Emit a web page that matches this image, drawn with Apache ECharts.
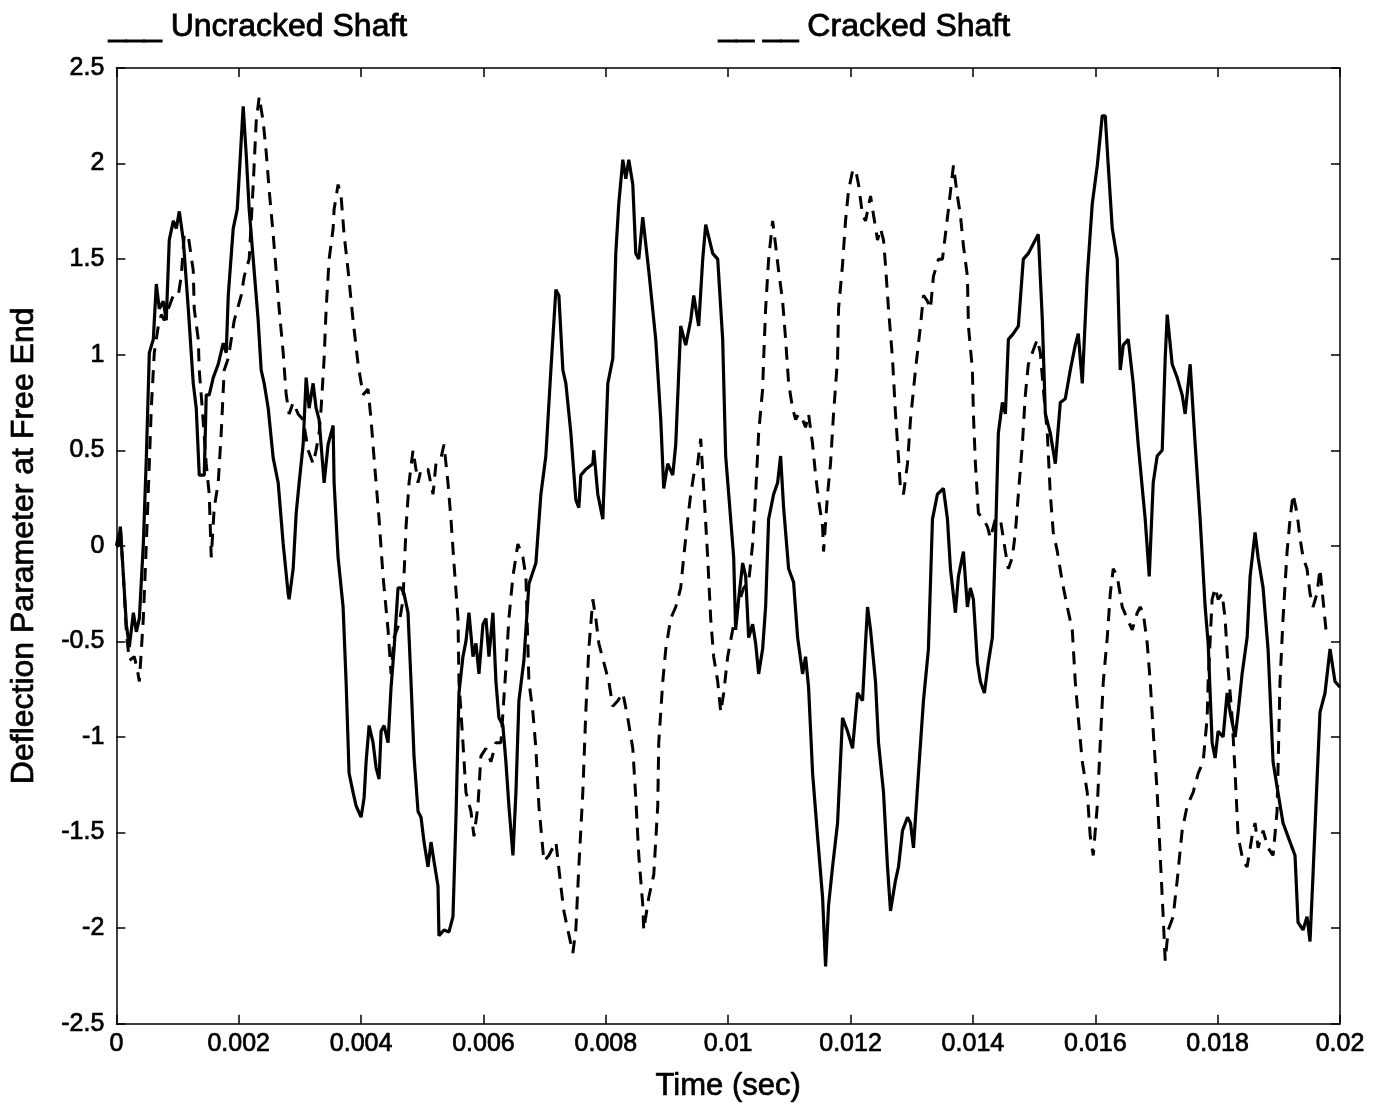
<!DOCTYPE html>
<html>
<head>
<meta charset="utf-8">
<title>Deflection Parameter at Free End</title>
<script src="https://cdn.jsdelivr.net/npm/echarts@6/dist/echarts.min.js"></script>
<style>
  html, body { margin: 0; padding: 0; background: #fff; }
  #chart { width: 1394px; height: 1107px; }
</style>
</head>
<body>
<div id="chart"></div>
<script>
// time in ms (axis shows seconds)
const uncrackedTime = [
  0, 0.033, 0.065, 0.114, 0.163, 0.212, 0.278, 0.327, 0.376, 0.441,
  0.490, 0.539, 0.604, 0.653, 0.702, 0.767, 0.816, 0.865, 0.931, 0.980,
  1.029, 1.094, 1.176, 1.257, 1.306, 1.355, 1.437, 1.469, 1.518, 1.584,
  1.665, 1.747, 1.796, 1.829, 1.910, 1.976, 2.073, 2.122, 2.171, 2.237,
  2.318, 2.367, 2.416, 2.482, 2.563, 2.645, 2.727, 2.808, 2.824, 2.890,
  2.939, 2.988, 3.053, 3.102, 3.151, 3.216, 3.265, 3.314, 3.396, 3.461,
  3.510, 3.543, 3.559, 3.624, 3.706, 3.755, 3.804, 3.869, 3.918, 4.000,
  4.049, 4.082, 4.131, 4.196, 4.245, 4.294, 4.327, 4.376, 4.441, 4.490,
  4.539, 4.604, 4.653, 4.702, 4.767, 4.816, 4.865, 4.931, 4.980, 5.029,
  5.094, 5.143, 5.192, 5.257, 5.273, 5.355, 5.437, 5.502, 5.551, 5.600,
  5.665, 5.714, 5.763, 5.829, 5.878, 5.927, 5.992, 6.041, 6.090, 6.155,
  6.204, 6.253, 6.318, 6.367, 6.416, 6.482, 6.531, 6.580, 6.661, 6.743,
  6.857, 6.939, 7.020, 7.102, 7.184, 7.233, 7.298, 7.347, 7.429, 7.510,
  7.559, 7.592, 7.673, 7.788, 7.804, 7.869, 7.951, 8.033, 8.114, 8.163,
  8.212, 8.278, 8.327, 8.376, 8.441, 8.490, 8.539, 8.604, 8.702, 8.816,
  8.898, 8.947, 9.012, 9.094, 9.143, 9.224, 9.306, 9.388, 9.437, 9.518,
  9.584, 9.633, 9.747, 9.829, 9.910, 9.959, 10.041, 10.090, 10.122, 10.171,
  10.237, 10.286, 10.335, 10.400, 10.449, 10.498, 10.563, 10.612, 10.661, 10.743,
  10.808, 10.857, 10.906, 10.988, 11.069, 11.135, 11.216, 11.265, 11.314, 11.380,
  11.461, 11.543, 11.592, 11.641, 11.706, 11.788, 11.869, 11.951, 12.033, 12.114,
  12.196, 12.245, 12.278, 12.327, 12.408, 12.457, 12.539, 12.604, 12.653, 12.735,
  12.784, 12.849, 12.931, 12.980, 13.029, 13.110, 13.192, 13.273, 13.339, 13.420,
  13.518, 13.584, 13.633, 13.714, 13.763, 13.845, 13.910, 13.959, 14.008, 14.073,
  14.122, 14.188, 14.253, 14.318, 14.367, 14.416, 14.482, 14.531, 14.580, 14.661,
  14.743, 14.824, 14.906, 15.020, 15.069, 15.135, 15.184, 15.265, 15.347, 15.429,
  15.510, 15.592, 15.673, 15.722, 15.788, 15.869, 15.951, 16.033, 16.114, 16.163,
  16.212, 16.278, 16.359, 16.408, 16.457, 16.539, 16.620, 16.702, 16.816, 16.882,
  16.947, 17.012, 17.094, 17.143, 17.176, 17.257, 17.339, 17.420, 17.469, 17.551,
  17.633, 17.714, 17.796, 17.845, 17.910, 17.959, 18.008, 18.090, 18.155, 18.204,
  18.286, 18.335, 18.400, 18.482, 18.531, 18.612, 18.661, 18.743, 18.824, 18.906,
  18.971, 19.069, 19.184, 19.265, 19.314, 19.396, 19.461, 19.510, 19.559, 19.624,
  19.673, 19.755, 19.837, 19.918, 20.000
]
const uncrackedDeflection = [
  0, 0, 0.1, -0.15, -0.41, -0.53, -0.35, -0.45, -0.38, 0.01,
  0.46, 1.01, 1.08, 1.37, 1.24, 1.28, 1.18, 1.6, 1.7, 1.66,
  1.75, 1.6, 1.24, 0.85, 0.72, 0.37, 0.37, 0.79, 0.79, 0.88,
  0.95, 1.06, 1.01, 1.31, 1.66, 1.76, 2.3, 2.05, 1.76, 1.5,
  1.18, 0.92, 0.85, 0.72, 0.46, 0.33, 0.01, -0.25, -0.28, -0.12,
  0.17, 0.33, 0.53, 0.88, 0.72, 0.85, 0.72, 0.66, 0.33, 0.53,
  0.59, 0.63, 0.33, -0.06, -0.32, -0.71, -1.19, -1.29, -1.36, -1.42,
  -1.32, -1.13, -0.94, -1.03, -1.16, -1.22, -0.97, -0.94, -1.03, -0.74,
  -0.54, -0.22, -0.22, -0.25, -0.35, -0.71, -1.1, -1.39, -1.42, -1.55,
  -1.68, -1.55, -1.65, -1.78, -2.04, -2.01, -2.02, -1.94, -1.42, -0.77,
  -0.58, -0.5, -0.35, -0.58, -0.51, -0.67, -0.41, -0.38, -0.58, -0.35,
  -0.71, -0.9, -0.94, -1.13, -1.36, -1.62, -1.29, -0.81, -0.6, -0.2,
  -0.09, 0.27, 0.47, 0.92, 1.34, 1.31, 0.92, 0.85, 0.59, 0.24,
  0.2, 0.37, 0.4, 0.43, 0.5, 0.27, 0.14, 0.85, 0.98, 1.53,
  1.79, 2.02, 1.92, 2.02, 1.89, 1.53, 1.5, 1.72, 1.44, 1.08,
  0.66, 0.3, 0.43, 0.37, 0.53, 1.15, 1.05, 1.18, 1.31, 1.15,
  1.5, 1.68, 1.53, 1.5, 1.08, 0.47, 0.14, -0.06, -0.44, -0.28,
  -0.09, -0.16, -0.48, -0.41, -0.51, -0.67, -0.54, -0.32, 0.14, 0.27,
  0.33, 0.47, 0.2, -0.12, -0.19, -0.48, -0.67, -0.58, -0.74, -1.19,
  -1.52, -1.84, -2.2, -1.88, -1.68, -1.45, -0.9, -0.97, -1.06, -0.77,
  -0.81, -0.51, -0.32, -0.44, -0.71, -1.03, -1.29, -1.68, -1.91, -1.75,
  -1.68, -1.49, -1.42, -1.45, -1.58, -1.19, -0.81, -0.54, 0.14, 0.27,
  0.3, 0.14, -0.12, -0.35, -0.16, -0.03, -0.32, -0.22, -0.28, -0.61,
  -0.71, -0.77, -0.61, -0.48, 0.01, 0.59, 0.75, 0.69, 1.08, 1.11,
  1.15, 1.5, 1.53, 1.6, 1.63, 1.18, 0.69, 0.59, 0.43, 0.75,
  0.77, 0.92, 1.05, 1.11, 0.85, 1.41, 1.79, 1.99, 2.25, 2.25,
  1.99, 1.66, 1.5, 0.92, 1.05, 1.08, 0.85, 0.53, 0.14, -0.16,
  0.33, 0.47, 0.5, 0.98, 1.21, 0.95, 0.88, 0.79, 0.69, 0.95,
  0.53, 0.14, -0.32, -0.51, -1.03, -1.11, -0.97, -1.0, -0.77, -0.87,
  -1.0, -0.87, -0.67, -0.48, -0.16, 0.07, -0.06, -0.22, -0.54, -1.13,
  -1.26, -1.45, -1.55, -1.62, -1.97, -2.01, -1.94, -2.07, -1.72, -1.23,
  -0.87, -0.77, -0.54, -0.71, -0.74
]
const crackedTime = [
  0, 0.065, 0.114, 0.163, 0.212, 0.294, 0.343, 0.376, 0.441, 0.490,
  0.539, 0.571, 0.620, 0.686, 0.735, 0.784, 0.849, 0.931, 1.012, 1.061,
  1.110, 1.176, 1.257, 1.273, 1.339, 1.355, 1.404, 1.469, 1.518, 1.551,
  1.600, 1.665, 1.714, 1.763, 1.829, 1.927, 2.041, 2.090, 2.171, 2.237,
  2.286, 2.335, 2.400, 2.449, 2.498, 2.563, 2.612, 2.661, 2.727, 2.776,
  2.824, 2.890, 2.971, 3.053, 3.135, 3.216, 3.265, 3.314, 3.347, 3.396,
  3.429, 3.478, 3.543, 3.559, 3.624, 3.673, 3.722, 3.788, 3.869, 3.951,
  4.033, 4.114, 4.163, 4.212, 4.294, 4.359, 4.441, 4.490, 4.539, 4.620,
  4.686, 4.735, 4.784, 4.849, 4.931, 4.980, 5.094, 5.176, 5.224, 5.306,
  5.355, 5.420, 5.469, 5.518, 5.584, 5.600, 5.665, 5.714, 5.796, 5.845,
  5.910, 5.959, 6.041, 6.122, 6.204, 6.286, 6.367, 6.416, 6.482, 6.563,
  6.645, 6.694, 6.743, 6.808, 6.857, 6.906, 6.988, 7.069, 7.184, 7.265,
  7.314, 7.380, 7.461, 7.510, 7.559, 7.624, 7.673, 7.722, 7.788, 7.837,
  7.886, 7.967, 8.049, 8.114, 8.196, 8.278, 8.359, 8.441, 8.490, 8.539,
  8.604, 8.620, 8.702, 8.784, 8.849, 8.865, 8.931, 8.980, 9.061, 9.143,
  9.224, 9.273, 9.339, 9.388, 9.437, 9.502, 9.551, 9.600, 9.665, 9.714,
  9.763, 9.829, 9.878, 9.927, 9.992, 10.073, 10.155, 10.253, 10.335, 10.400,
  10.449, 10.498, 10.563, 10.580, 10.612, 10.661, 10.727, 10.776, 10.824, 10.890,
  10.939, 10.988, 11.053, 11.102, 11.151, 11.216, 11.265, 11.314, 11.380, 11.429,
  11.478, 11.543, 11.559, 11.624, 11.673, 11.722, 11.788, 11.804, 11.869, 11.918,
  11.967, 12.033, 12.082, 12.131, 12.196, 12.245, 12.327, 12.376, 12.441, 12.490,
  12.539, 12.571, 12.620, 12.686, 12.735, 12.784, 12.816, 12.865, 12.931, 12.980,
  13.061, 13.143, 13.192, 13.257, 13.306, 13.355, 13.437, 13.502, 13.551, 13.600,
  13.682, 13.747, 13.796, 13.845, 13.910, 13.927, 13.992, 14.008, 14.041, 14.090,
  14.171, 14.237, 14.286, 14.367, 14.449, 14.531, 14.580, 14.645, 14.694, 14.743,
  14.808, 14.857, 14.906, 14.971, 15.053, 15.102, 15.151, 15.216, 15.265, 15.314,
  15.380, 15.461, 15.543, 15.624, 15.673, 15.722, 15.788, 15.869, 15.918, 15.967,
  16.033, 16.082, 16.131, 16.196, 16.245, 16.294, 16.359, 16.441, 16.522, 16.604,
  16.686, 16.735, 16.784, 16.849, 16.898, 16.947, 17.012, 17.061, 17.110, 17.143,
  17.192, 17.273, 17.339, 17.420, 17.502, 17.600, 17.682, 17.763, 17.829, 17.845,
  17.910, 17.959, 18.008, 18.073, 18.122, 18.171, 18.237, 18.286, 18.335, 18.416,
  18.482, 18.563, 18.612, 18.661, 18.743, 18.824, 18.906, 18.971, 19.020, 19.069,
  19.135, 19.184, 19.233, 19.298, 19.347, 19.396, 19.461, 19.510, 19.559, 19.624,
  19.673, 19.722, 19.771
]
const crackedDeflection = [
  0, 0.1, -0.15, -0.45, -0.6, -0.58, -0.65, -0.71, -0.38, 0.01,
  0.43, 0.72, 1.01, 1.15, 1.21, 1.18, 1.24, 1.31, 1.31, 1.41,
  1.63, 1.62, 1.44, 1.24, 1.08, 0.92, 0.72, 0.43, 0.27, -0.06,
  0.2, 0.33, 0.59, 0.92, 0.98, 1.18, 1.31, 1.41, 1.5, 1.89,
  2.22, 2.35, 2.22, 2.06, 1.86, 1.63, 1.44, 1.24, 1.01, 0.79,
  0.69, 0.75, 0.69, 0.66, 0.5, 0.43, 0.5, 0.59, 0.72, 0.98,
  1.24, 1.5, 1.66, 1.76, 1.89, 1.83, 1.63, 1.44, 1.18, 0.95,
  0.79, 0.82, 0.66, 0.46, 0.14, -0.16, -0.44, -0.67, -0.48, -0.41,
  -0.28, 0.1, 0.33, 0.5, 0.33, 0.4, 0.4, 0.27, 0.43, 0.46,
  0.53, 0.33, 0.14, -0.09, -0.38, -0.71, -1.03, -1.29, -1.39, -1.52,
  -1.36, -1.1, -1.06, -1.13, -1.03, -1.03, -0.64, -0.38, -0.16, 0.01,
  -0.06, -0.16, -0.71, -0.87, -1.06, -1.36, -1.65, -1.62, -1.55, -1.78,
  -1.91, -2.01, -2.13, -2.01, -1.68, -1.29, -0.87, -0.54, -0.28, -0.38,
  -0.51, -0.61, -0.71, -0.84, -0.81, -0.77, -0.9, -1.06, -1.32, -1.62,
  -1.88, -2.01, -1.84, -1.72, -1.36, -1.03, -0.71, -0.54, -0.38, -0.32,
  -0.22, -0.06, 0.14, 0.27, 0.37, 0.43, 0.56, 0.3, -0.06, -0.38,
  -0.58, -0.71, -0.87, -0.77, -0.58, -0.44, -0.32, -0.22, -0.19, 0.01,
  0.27, 0.59, 0.82, 0.98, 1.24, 1.5, 1.7, 1.57, 1.44, 1.28,
  1.08, 0.85, 0.72, 0.66, 0.69, 0.66, 0.62, 0.69, 0.53, 0.37,
  0.24, 0.1, -0.03, 0.27, 0.43, 0.69, 0.98, 1.24, 1.47, 1.7,
  1.86, 1.96, 1.97, 1.89, 1.73, 1.7, 1.83, 1.73, 1.6, 1.66,
  1.6, 1.47, 1.24, 0.98, 0.69, 0.46, 0.3, 0.27, 0.43, 0.66,
  0.92, 1.15, 1.31, 1.28, 1.24, 1.41, 1.5, 1.5, 1.63, 1.76,
  1.99, 1.83, 1.73, 1.57, 1.41, 1.15, 0.92, 0.69, 0.43, 0.17,
  0.14, 0.1, 0.04, 0.14, 0.14, -0.03, -0.12, -0.06, 0.07, 0.27,
  0.53, 0.79, 0.95, 1.01, 1.08, 1.01, 0.82, 0.59, 0.27, 0.07,
  -0.03, -0.19, -0.32, -0.44, -0.71, -0.9, -1.13, -1.29, -1.52, -1.62,
  -1.36, -1.03, -0.71, -0.48, -0.25, -0.12, -0.16, -0.32, -0.38, -0.44,
  -0.35, -0.32, -0.35, -0.51, -0.71, -0.97, -1.29, -1.62, -1.94, -2.17,
  -2.01, -1.94, -1.75, -1.49, -1.36, -1.29, -1.19, -1.13, -0.9, -0.71,
  -0.28, -0.22, -0.28, -0.25, -0.38, -0.64, -0.9, -1.19, -1.52, -1.65,
  -1.68, -1.52, -1.45, -1.58, -1.49, -1.58, -1.62, -1.39, -0.71, -0.38,
  -0.03, 0.14, 0.27, 0.17, 0.04, -0.06, -0.12, -0.25, -0.32, -0.25,
  -0.12, -0.28, -0.44
]
const xTickLabels = ['0', '0.002', '0.004', '0.006', '0.008', '0.01', '0.012', '0.014', '0.016', '0.018', '0.02']
const yTickLabels = ['-2.5', '-2', '-1.5', '-1', '-0.5', '0', '0.5', '1', '1.5', '2', '2.5']

const font = 'Liberation Sans, Arial, sans-serif'

const zip = (xs, ys) => xs.map((x, i) => [x, ys[i]])

const chart = echarts.init(document.getElementById('chart'))

// scanned look: text a bit heavier than plain regular
const inkText = { color: '#000', fontFamily: font, textBorderColor: '#000', textBorderWidth: 0.7 }

const baseX = {
    type: 'value',
    min: 0,
    max: 20,
    interval: 2,
    splitLine: { show: false },
    axisLine: { show: true, onZero: false, lineStyle: { color: '#000', width: 1.5 } },
    axisTick: { show: true, inside: true, length: 9, lineStyle: { color: '#000', width: 1.5 } }
}
const baseY = {
    type: 'value',
    min: -2.5,
    max: 2.5,
    interval: 0.5,
    splitLine: { show: false },
    axisLine: { show: true, onZero: false, lineStyle: { color: '#000', width: 1.5 } },
    axisTick: { show: true, inside: true, length: 9, lineStyle: { color: '#000', width: 1.5 } }
}

const option = {
    animation: false,
    backgroundColor: '#fff',
    grid: { left: 115, right: 54, top: 68, bottom: 83, containLabel: false },
    graphic: [
        {
            type: 'text', left: 108, top: 11,
            style: { text: '___ Uncracked Shaft', font: '32px ' + font, fill: '#000', stroke: '#000', lineWidth: 0.8 }
        },
        {
            type: 'text', left: 718, top: 11,
            style: { text: '__ __ Cracked Shaft', font: '32px ' + font, fill: '#000', stroke: '#000', lineWidth: 0.8 }
        }
    ],
    xAxis: [
        Object.assign({}, baseX, {
            position: 'bottom',
            name: 'Time (sec)',
            nameLocation: 'middle',
            nameGap: 47,
            nameTextStyle: Object.assign({ fontSize: 31 }, inkText),
            axisLabel: Object.assign({
                margin: 8, fontSize: 25,
                formatter: v => xTickLabels[Math.round(v / 2)]
            }, inkText)
        }),
        Object.assign({}, baseX, { position: 'top', axisLabel: { show: false } })
    ],
    yAxis: [
        Object.assign({}, baseY, {
            position: 'left',
            name: 'Deflection Parameter at Free End',
            nameLocation: 'middle',
            nameGap: 76,
            nameTextStyle: Object.assign({ fontSize: 32 }, inkText),
            axisLabel: Object.assign({
                margin: 12, fontSize: 25,
                formatter: v => yTickLabels[Math.round((v + 2.5) / 0.5)]
            }, inkText)
        }),
        Object.assign({}, baseY, { position: 'right', axisLabel: { show: false } })
    ],
    series: [
        {
            name: 'Uncracked Shaft',
            type: 'line',
            data: zip(uncrackedTime, uncrackedDeflection),
            showSymbol: false,
            symbol: 'none',
            lineStyle: { color: '#000', width: 3.2 }
        },
        {
            name: 'Cracked Shaft',
            type: 'line',
            data: zip(crackedTime, crackedDeflection),
            showSymbol: false,
            symbol: 'none',
            lineStyle: { color: '#000', width: 3, type: [13, 9] }
        }
    ]
}

chart.setOption(option)
</script>
</body>
</html>
